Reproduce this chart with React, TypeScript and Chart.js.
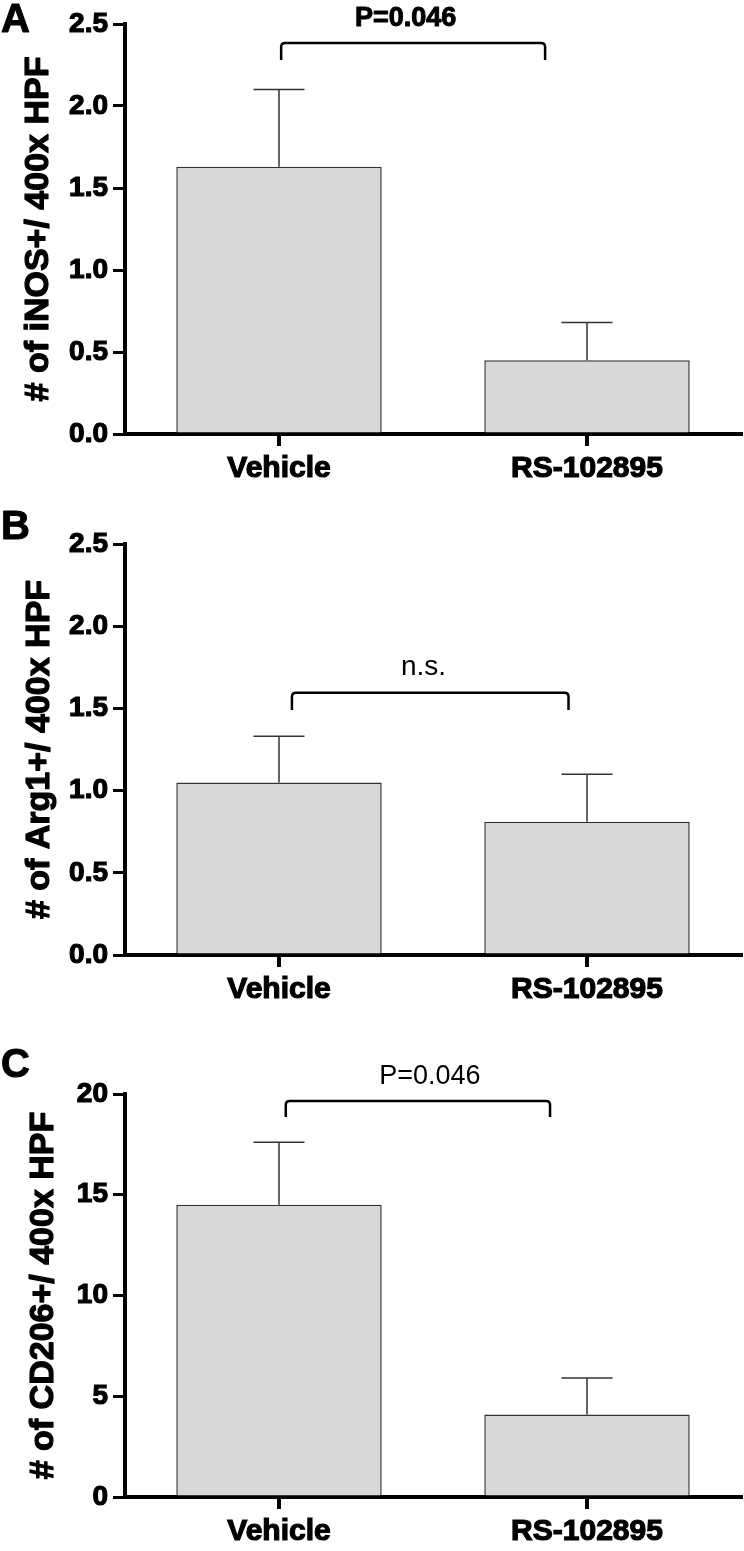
import React, { useEffect, useRef } from "react";
import { Chart, registerables } from "chart.js";

Chart.register(...registerables);

const FONT = '"Liberation Sans", Arial, Helvetica, sans-serif';

// ---- data ----
const groups = ["Vehicle", "RS-102895"];

// Panel A: iNOS+ cells per 400x HPF (mean, mean + SEM)
const inosMean = [1.63, 0.45];
const inosUpper = [2.1, 0.68];
const inosTicks = ["0.0", "0.5", "1.0", "1.5", "2.0", "2.5"];

// Panel B: Arg1+ cells per 400x HPF
const arg1Mean = [1.05, 0.81];
const arg1Upper = [1.33, 1.1];
const arg1Ticks = ["0.0", "0.5", "1.0", "1.5", "2.0", "2.5"];

// Panel C: CD206+ cells per 400x HPF
const cd206Mean = [14.5, 4.1];
const cd206Upper = [17.6, 5.9];
const cd206Ticks = ["0", "5", "10", "15", "20"];

const noteA = "P=0.046";
const noteB = "n.s.";
const noteC = "P=0.046";

type PanelSpec = {
  letter: string;
  letterSize: number;
  letterBaseline: number;
  height: number;
  top: number;
  bottom: number;
  title: string;
  titleBaseline: number;
  means: number[];
  upper: number[];
  ticks: string[];
  max: number;
  step: number;
  bracket: { x0: number; x1: number; yTop: number; yBottom: number };
  note: { text: string; bold: boolean; x: number; y: number; size: number };
};

const panels: PanelSpec[] = [
  {
    letter: "A",
    letterSize: 40,
    letterBaseline: 32,
    height: 500,
    top: 24,
    bottom: 434,
    title: "# of iNOS+/ 400x HPF",
    titleBaseline: 48,
    means: inosMean,
    upper: inosUpper,
    ticks: inosTicks,
    max: 2.5,
    step: 0.5,
    bracket: { x0: 0.007, x1: 0.864, yTop: 2.384, yBottom: 2.28 },
    note: { text: noteA, bold: true, x: 0.411, y: 2.488, size: 27 },
  },
  {
    letter: "B",
    letterSize: 40,
    letterBaseline: 39,
    height: 520,
    top: 44,
    bottom: 455,
    title: "# of Arg1+/ 400x HPF",
    titleBaseline: 49,
    means: arg1Mean,
    upper: arg1Upper,
    ticks: arg1Ticks,
    max: 2.5,
    step: 0.5,
    bracket: { x0: 0.042, x1: 0.94, yTop: 1.595, yBottom: 1.49 },
    note: { text: noteB, bold: false, x: 0.469, y: 1.703, size: 28 },
  },
  {
    letter: "C",
    letterSize: 40,
    letterBaseline: 57,
    height: 531,
    top: 74,
    bottom: 477,
    title: "# of CD206+/ 400x HPF",
    titleBaseline: 53,
    means: cd206Mean,
    upper: cd206Upper,
    ticks: cd206Ticks,
    max: 20,
    step: 5,
    bracket: { x0: 0.022, x1: 0.88, yTop: 19.65, yBottom: 18.86 },
    note: { text: noteC, bold: false, x: 0.49, y: 20.52, size: 27 },
  },
];

const W = 744;

function heavyText(ctx: any, text: string, x: number, y: number, stroke: number) {
  ctx.fillText(text, x, y);
  if (stroke > 0) {
    ctx.lineWidth = stroke;
    ctx.strokeStyle = "#000";
    ctx.lineJoin = "round";
    ctx.strokeText(text, x, y);
  }
}

function overlay(p: PanelSpec) {
  return {
    id: "overlay" + p.letter,
    afterDatasetsDraw(chart: any) {
      const xs = chart.scales.x;
      const ys = chart.scales.y;
      const ctx = chart.ctx;
      ctx.save();
      ctx.strokeStyle = "#333";
      ctx.lineWidth = 1.5;
      p.means.forEach((m, i) => {
        const px = xs.getPixelForValue(i);
        const y0 = ys.getPixelForValue(m);
        const y1 = ys.getPixelForValue(p.upper[i]);
        ctx.beginPath();
        ctx.moveTo(px, y0);
        ctx.lineTo(px, y1);
        ctx.moveTo(px - 25.5, y1);
        ctx.lineTo(px + 25.5, y1);
        ctx.stroke();
      });
      ctx.restore();
    },
    afterDraw(chart: any) {
      const xs = chart.scales.x;
      const ys = chart.scales.y;
      const ctx = chart.ctx;
      const area = chart.chartArea;
      ctx.save();
      // significance bracket
      const bx0 = xs.getPixelForValue(p.bracket.x0);
      const bx1 = xs.getPixelForValue(p.bracket.x1);
      const byT = ys.getPixelForValue(p.bracket.yTop);
      const byB = ys.getPixelForValue(p.bracket.yBottom);
      const r = 4;
      ctx.strokeStyle = "#000";
      ctx.lineWidth = 2.5;
      ctx.lineCap = "butt";
      ctx.beginPath();
      ctx.moveTo(bx0, byB);
      ctx.lineTo(bx0, byT + r);
      ctx.quadraticCurveTo(bx0, byT, bx0 + r, byT);
      ctx.lineTo(bx1 - r, byT);
      ctx.quadraticCurveTo(bx1, byT, bx1, byT + r);
      ctx.lineTo(bx1, byB);
      ctx.stroke();
      // note text
      ctx.fillStyle = "#000";
      ctx.font = `${p.note.bold ? "bold " : ""}${p.note.size}px ${FONT}`;
      ctx.textAlign = "center";
      ctx.textBaseline = "alphabetic";
      heavyText(
        ctx,
        p.note.text,
        xs.getPixelForValue(p.note.x),
        ys.getPixelForValue(p.note.y),
        p.note.bold ? 1 : 0
      );
      // y axis title (rotated)
      ctx.save();
      ctx.translate(p.titleBaseline, (area.top + area.bottom) / 2);
      ctx.rotate(-Math.PI / 2);
      ctx.font = `bold 34px ${FONT}`;
      ctx.textAlign = "center";
      ctx.textBaseline = "alphabetic";
      heavyText(ctx, p.title, 0, 0, 1.2);
      ctx.restore();
      // panel letter
      ctx.fillStyle = "#000";
      ctx.font = `bold ${p.letterSize}px ${FONT}`;
      ctx.textAlign = "left";
      ctx.textBaseline = "alphabetic";
      heavyText(ctx, p.letter, 1, p.letterBaseline, 1);
      ctx.restore();
    },
  };
}

function Panel({ p }: { p: PanelSpec }) {
  const ref = useRef<HTMLCanvasElement | null>(null);
  useEffect(() => {
    if (!ref.current) return;
    const chart = new Chart(ref.current, {
      type: "bar",
      data: {
        labels: groups,
        datasets: [
          {
            data: p.means,
            backgroundColor: "rgb(216,216,216)",
            borderColor: "#333",
            borderWidth: 1.5,
            borderSkipped: "start",
            categoryPercentage: 1,
            barPercentage: 0.667,
          },
        ],
      },
      options: {
        animation: false,
        responsive: false,
        maintainAspectRatio: false,
        devicePixelRatio: 1,
        layout: { padding: { top: p.top, left: 0, right: 3, bottom: 0 } },
        plugins: {
          legend: { display: false },
          tooltip: { enabled: false },
        },
        scales: {
          x: {
            type: "category",
            offset: true,
            z: 1,
            afterFit: (s: any) => {
              s.height = p.height - p.bottom;
            },
            grid: {
              display: true,
              offset: false,
              drawOnChartArea: false,
              drawTicks: true,
              tickLength: 12,
              color: "#000",
              lineWidth: 4,
            },
            border: { display: true, color: "#000", width: 4 },
            ticks: {
              color: "#000",
              padding: 5,
              autoSkip: false,
              maxRotation: 0,
              textStrokeColor: "#000",
              textStrokeWidth: 1.2,
              font: { family: FONT, size: 30, weight: "bold" },
            },
          },
          y: {
            type: "linear",
            min: 0,
            max: p.max,
            z: 1,
            afterFit: (s: any) => {
              s.width = 125;
            },
            grid: {
              display: true,
              drawOnChartArea: false,
              drawTicks: true,
              tickLength: 12,
              color: "#000",
              lineWidth: 3,
            },
            border: { display: true, color: "#000", width: 4 },
            ticks: {
              stepSize: p.step,
              color: "#000",
              padding: 5,
              textStrokeColor: "#000",
              textStrokeWidth: 1.2,
              font: { family: FONT, size: 28, weight: "bold" },
              callback: (_v: any, i: number) => p.ticks[i],
            },
            title: { display: false },
          },
        },
      },
      plugins: [overlay(p)],
    } as any);
    return () => chart.destroy();
  }, [p]);
  return (
    <canvas
      ref={ref}
      width={W}
      height={p.height}
      style={{ display: "block", width: W, height: p.height }}
    />
  );
}

export default function App() {
  return (
    <div
      style={{
        position: "absolute",
        left: 0,
        top: 0,
        width: W,
        background: "#fff",
      }}
    >
      {panels.map((p) => (
        <Panel key={p.letter} p={p} />
      ))}
    </div>
  );
}
